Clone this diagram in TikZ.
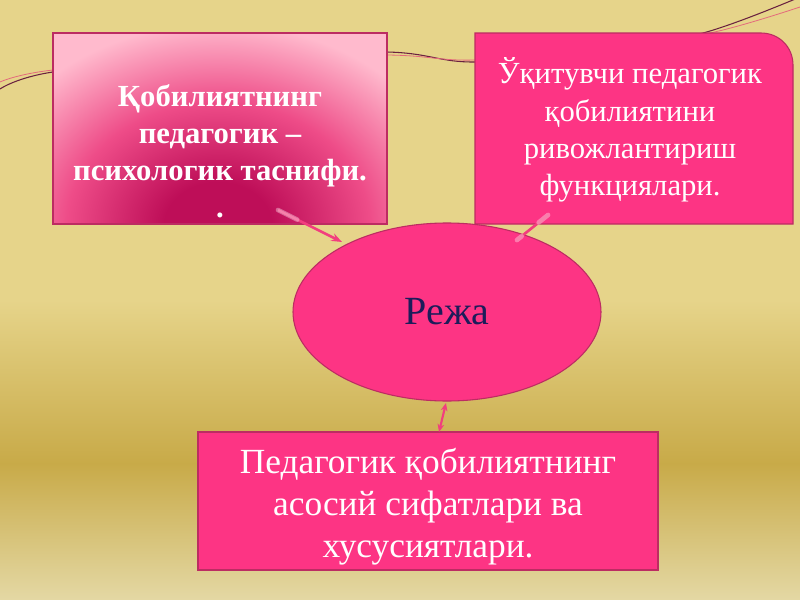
\documentclass[tikz,border=0pt]{standalone}
\usepackage{fontspec}
\setmainfont{Liberation Serif}
\usetikzlibrary{arrows.meta,shapes.geometric,calc}
\definecolor{sandtop}{HTML}{E6D48A}
\definecolor{sanddeep}{HTML}{C8AA48}
\definecolor{sandlow}{HTML}{E4D8A4}
\definecolor{hotpink}{HTML}{FD3484}
\definecolor{boxedge}{HTML}{BC2C62}
\definecolor{deepmag}{HTML}{BE0E58}
\definecolor{vivid}{HTML}{EE4C88}
\definecolor{blush}{HTML}{FFBACD}
\definecolor{inkblue}{HTML}{1C1C5A}
\definecolor{wiredark}{HTML}{6A2240}
\definecolor{wirepink}{HTML}{E46A7C}
\definecolor{linkpink}{HTML}{F23E7E}
\pgfdeclareradialshading{traitglow}{\pgfpoint{0bp}{0bp}}{color(0bp)=(deepmag); color(5bp)=(deepmag); color(14bp)=(vivid); color(23bp)=(blush); color(50bp)=(blush)}

\begin{document}
\begin{tikzpicture}[x=0.75pt,y=-0.75pt,
  boxtext/.style={text=white, align=center, inner sep=0pt},
  link/.style={linkpink, line width=2pt},
  tip/.style={-{Stealth[length=8pt,width=6pt]}},
  glow/.style={white, opacity=0.35, line width=3.5pt, line cap=round}]
\useasboundingbox (0,0) rectangle (800,600);
% background
\fill[sandtop] (0,0) rectangle (800,301);
\shade[top color=sandtop, bottom color=sanddeep] (0,300) rectangle (800,464);
\shade[top color=sanddeep, bottom color=sandlow] (0,463) rectangle (800,600);
% wires behind the boxes
\draw[wiredark, line width=0.8pt] plot[smooth, tension=0.6] coordinates {(0,89) (53,72) (220,56) (387,52) (475,62) (600,50) (703,33) (800,-3)};
\draw[wirepink, line width=0.6pt] plot[smooth, tension=0.6] coordinates {(0,82) (53,70) (220,57) (387,55) (475,60) (600,49) (710,33) (800,7)};
% top left box
\begin{scope}
\clip (53,33) rectangle (387,224);
\shade[shading=traitglow] (-52,6) rectangle (488,446);
\end{scope}
\node[draw=boxedge, line width=0.8pt, minimum width=250.5pt, minimum height=143.25pt] (trait) at (220,128.5) {};
\node[boxtext, font=\bfseries\fontsize{23}{27.75}\selectfont] (traitlbl) at (220,151) {Қобилиятнинг\\педагогик --\\психологик таснифи.\\.};
% top right box
\filldraw[fill=hotpink, draw=boxedge, line width=0.8pt] (475,224) -- (475,33) -- (761,33) .. controls (779,33) and (793,47) .. (793,65) -- (793,224) -- cycle;
\node[boxtext, font=\fontsize{23}{28}\selectfont] (func) at (630,130) {Ўқитувчи педагогик\\қобилиятини\\ривожлантириш\\функциялари.};
% centre
\node[ellipse, draw=boxedge, fill=hotpink, line width=0.8pt, minimum width=231pt, minimum height=133.5pt, inner sep=0pt, text=inkblue, font=\fontsize{30}{36}\selectfont] (plan) at (447,312) {\raisebox{-3pt}{Режа}};
% bottom box
\node[draw=boxedge, fill=hotpink, line width=0.8pt, minimum width=345pt, minimum height=103.5pt] (basics) at (428,501) {};
\node[boxtext, font=\fontsize{26.5}{31.5}\selectfont] (basicslbl) at (428,507) {Педагогик қобилиятнинг\\асосий сифатлари ва\\хусусиятлари.};
% connectors
\coordinate (a1s) at (278,210);
\coordinate (a1e) at (342,242);
\coordinate (a2s) at (548,215);
\coordinate (a2e) at (517,240);
\coordinate (a3s) at (446,403);
\coordinate (a3e) at (439,432);
\draw[link, tip] (a1s) -- (a1e);
\draw[link] (a2s) -- (a2e);
\draw[linkpink, line width=1.6pt, {Stealth[length=6pt,width=5pt]}-{Stealth[length=6pt,width=5pt]}] (a3s) -- (a3e);
\draw[glow] (a1s) -- ($(a1s)!0.3!(a1e)$);
\draw[glow] (a2s) -- ($(a2s)!0.3!(a2e)$);
\draw[glow] (a2e) -- ($(a2e)!0.15!(a2s)$);
\end{tikzpicture}
\end{document}
